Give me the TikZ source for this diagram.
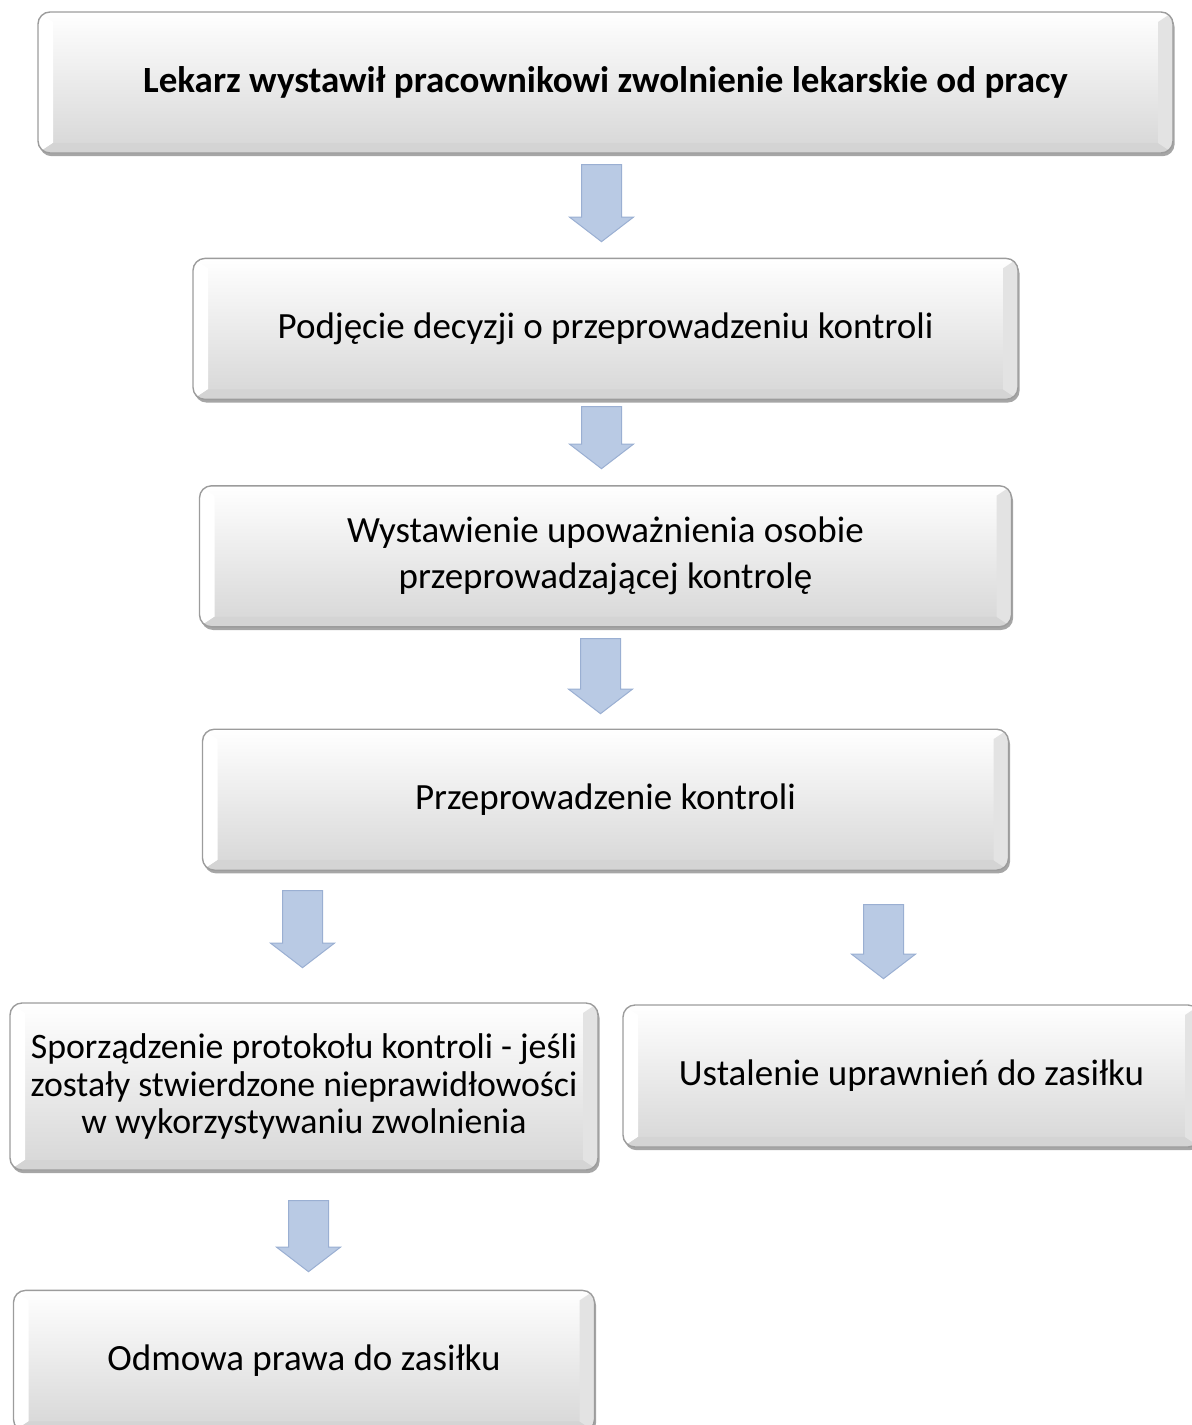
\documentclass[tikz,border=0pt]{standalone}
\usepackage{fontspec}
\setmainfont{Carlito}
\usepackage{tikz}
\usetikzlibrary{positioning,shapes.arrows,shadows}

\definecolor{arrfill}{HTML}{B9CAE4}
\definecolor{arrline}{HTML}{9AAFD2}
\definecolor{boxline}{HTML}{9C9C9C}

\tikzset{
  stepbox/.style={draw=boxline, line width=0.7pt, rounded corners=6pt,
    top color=white, bottom color=black!16, align=center,
    minimum height=70.5pt, inner sep=4pt, text=black,
    font=\fontsize{18.5}{23}\selectfont,
    drop shadow={shadow xshift=0.8pt, shadow yshift=-1.6pt, opacity=0.35, fill=black},
    path picture={
      \fill[white, sharp corners] (path picture bounding box.north west) -- ([xshift=7.5pt,yshift=-5pt]path picture bounding box.north west) -- ([xshift=7.5pt,yshift=5pt]path picture bounding box.south west) -- (path picture bounding box.south west) -- cycle;
      \fill[black!17, sharp corners] (path picture bounding box.south west) -- ([xshift=7.5pt,yshift=5pt]path picture bounding box.south west) -- ([xshift=-7.5pt,yshift=5pt]path picture bounding box.south east) -- (path picture bounding box.south east) -- cycle;
      \fill[black!11, sharp corners] (path picture bounding box.north east) -- ([xshift=-7.5pt,yshift=-5pt]path picture bounding box.north east) -- ([xshift=-7.5pt,yshift=5pt]path picture bounding box.south east) -- (path picture bounding box.south east) -- cycle;
    }},
  downarrow/.style={single arrow, shape border rotate=270, draw=arrline,
    fill=arrfill, line width=0.5pt, inner sep=9.75pt, yshift=4.5pt,
    single arrow head extend=6pt, single arrow tip angle=105}
}

\begin{document}
\begin{tikzpicture}[x=0.5pt,y=-0.5pt]
\useasboundingbox (0,0) rectangle (1192,1425);

\node[stepbox, minimum width=567.5pt, font=\fontsize{18.5}{23}\selectfont\bfseries] (decision) at (605.5,82.5) {Lekarz wystawił pracownikowi zwolnienie lekarskie od pracy};
\node[stepbox, minimum width=412.5pt, below=52pt of decision] (plan) {Podjęcie decyzji o przeprowadzeniu kontroli};
\node[stepbox, minimum width=406pt, below=42.5pt of plan] (auth) {Wystawienie upoważnienia osobie\\ przeprowadzającej kontrolę};
\node[stepbox, minimum width=403pt, below=50.5pt of auth] (check) {Przeprowadzenie kontroli};

\node[stepbox, minimum width=294pt, minimum height=83.5pt, font=\fontsize{17.9}{18.75}\selectfont] (report) at (304,1086.5) {Sporządzenie protokołu kontroli - jeśli\\ zostały stwierdzone nieprawidłowości\\ w wykorzystywaniu zwolnienia};
\node[stepbox, minimum width=288.5pt, minimum height=71pt] (grant) at (911.5,1076) {Ustalenie uprawnień do zasiłku};
\node[stepbox, minimum width=290.5pt, below=59.5pt of report] (refuse) {Odmowa prawa do zasiłku};

\node[downarrow, minimum height=38.5pt] (arr1) at (601.5,204.5) {};
\node[downarrow, minimum height=31pt] (arr2) at (601.5,439) {};
\node[downarrow, minimum height=37.5pt] (arr3) at (600.5,677.5) {};
\node[downarrow, minimum height=38.5pt] (arr4) at (302.5,930.5) {};
\node[downarrow, minimum height=37pt] (arr5) at (883.5,943) {};
\node[downarrow, minimum height=35.5pt] (arr6) at (308.5,1237.5) {};
\end{tikzpicture}
\end{document}
